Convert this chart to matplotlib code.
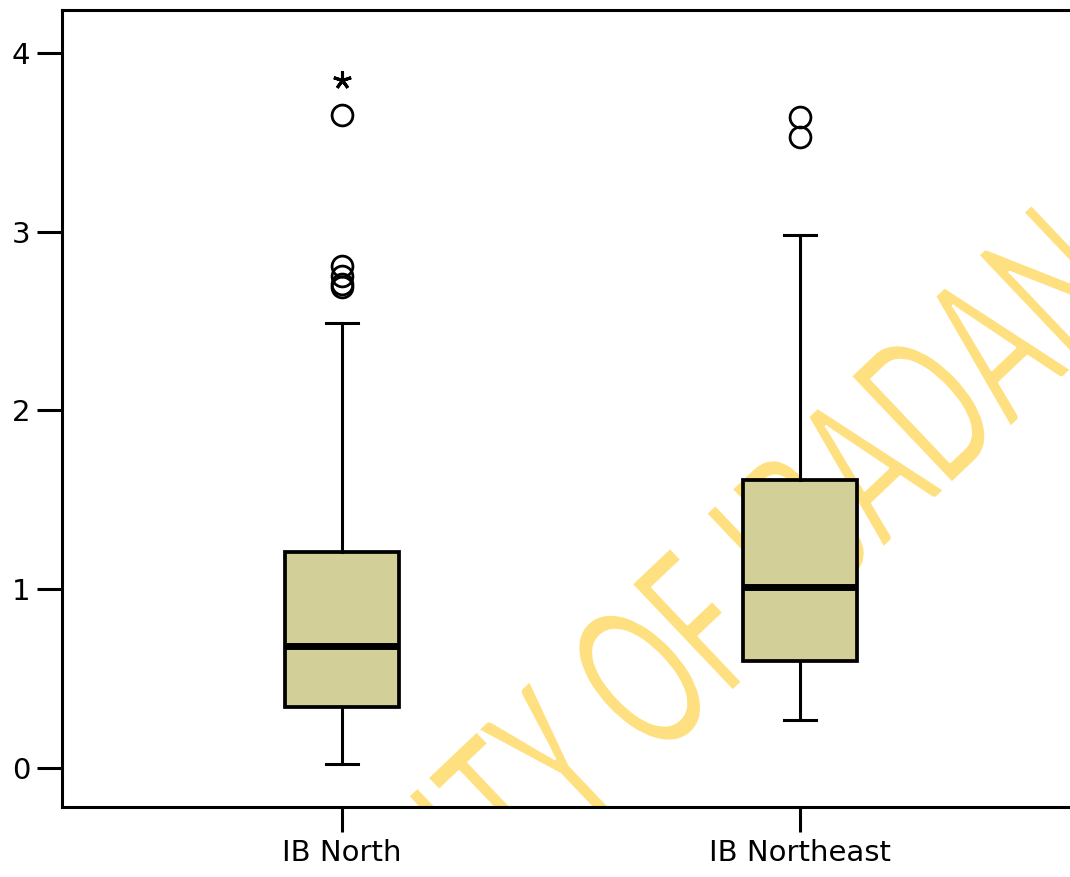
import numpy as np
import matplotlib
matplotlib.use("Agg")
import matplotlib.pyplot as plt
from matplotlib import patheffects
from matplotlib.transforms import Affine2D
from matplotlib.font_manager import FontProperties
from matplotlib.textpath import TextToPath

# ---------------- data ----------------
groups = ["IB North", "IB Northeast"]
whislo = [0.02, 0.27]
q1 = [0.34, 0.60]
med = [0.68, 1.01]
q3 = [1.21, 1.61]
whishi = [2.49, 2.98]
outliers = [[2.69, 2.71, 2.75, 2.81, 3.65], [3.53, 3.64]]
extremes = [[3.85], []]
yticks = [0, 1, 2, 3, 4]
watermark = "UNIVERSITY OF IBADAN LIBRARY"

# ---------------- figure ----------------
W, H, DPI = 1070, 877, 100
fig = plt.figure(figsize=(W / DPI, H / DPI), dpi=DPI)
ax = fig.add_axes([62 / W, (H - 807) / H, (1080 - 62) / W, (807 - 10) / H])

box_color = "#D3CF98"
stats = []
for i, g in enumerate(groups):
    stats.append(dict(label=g, whislo=whislo[i], q1=q1[i], med=med[i],
                      q3=q3[i], whishi=whishi[i], fliers=outliers[i]))

positions = np.arange(1, len(groups) + 1)
ax.bxp(stats, positions=positions, widths=0.25, capwidths=0.07,
       patch_artist=True, showfliers=True,
       boxprops=dict(facecolor=box_color, edgecolor="black", linewidth=2.7),
       medianprops=dict(color="black", linewidth=5),
       whiskerprops=dict(color="black", linewidth=2.2),
       capprops=dict(color="black", linewidth=2.2),
       flierprops=dict(marker="o", markersize=15, markerfacecolor="none",
                       markeredgecolor="black", markeredgewidth=2.0),
       zorder=3)

for p, ex in zip(positions, extremes):
    if ex:
        ax.plot([p] * len(ex), ex, linestyle="none", marker=(5, 2, 0),
                markersize=13, markeredgewidth=2.2, color="black", zorder=4)

ax.set_xlim(1 - 280 / 458, 2 + 280 / 458)
ax.set_ylim(-0.218, 4.24)
ax.set_xticks(positions)
ax.set_xticklabels(groups)
ax.set_yticks(yticks)
ax.set_yticklabels([str(t) for t in yticks])

for s in ["left", "bottom", "top"]:
    ax.spines[s].set_linewidth(2.2)
ax.spines["right"].set_visible(False)
ax.tick_params(axis="both", length=18, width=2.2, direction="out",
               labelsize=21, pad=5)
for lab in ax.get_xticklabels() + ax.get_yticklabels():
    lab.set_fontfamily("DejaVu Sans")

# ---------------- watermark ----------------
class Squeeze(patheffects.AbstractPathEffect):
    """Draw the glyphs condensed along the baseline, slightly thinned."""
    def __init__(self, sx, thin_pt=0.0):
        super().__init__()
        self.sx = sx
        self.thin_pt = thin_pt

    def draw_path(self, renderer, gc, tpath, affine, rgbFace=None):
        aff = Affine2D().scale(self.sx, 1.0) + affine
        renderer.draw_path(gc, tpath, aff, rgbFace)
        if self.thin_pt > 0:
            gc2 = renderer.new_gc()
            gc2.copy_properties(gc)
            gc2.set_foreground("white")
            gc2.set_linewidth(self.thin_pt)
            gc2.set_joinstyle("round")
            renderer.draw_path(gc2, tpath, aff, None)
            gc2.restore()

wm_size = 165
sx = 0.64
ang = 43.5
fp = FontProperties(family=["Carlito", "Open Sans"], size=wm_size)
t2p = TextToPath()
v_pre, _ = t2p.get_text_path(fp, "UNIVERSITY O")
v_all, _ = t2p.get_text_path(fp, "UNIVERSITY OF")
f_left = np.asarray(v_all)[len(v_pre):, 0].min()
em_px = wm_size * DPI / 72.0
f_left_px = f_left * em_px / t2p.FONT_SCALE * sx

th = np.deg2rad(ang)
u = np.array([np.cos(th), -np.sin(th)])
n = np.array([-np.sin(th), -np.cos(th)])
a = 46.0 - f_left_px
b = -1005.5
p0 = a * u + b * n
ax.text(p0[0] / W, 1 - p0[1] / H, watermark, transform=fig.transFigure,
        rotation=ang, rotation_mode="anchor", ha="left", va="baseline",
        fontproperties=fp, color="#FFE080", zorder=1, clip_on=True,
        path_effects=[Squeeze(sx, thin_pt=1.8)])

fig.savefig("out.png", dpi=DPI, facecolor="white")
